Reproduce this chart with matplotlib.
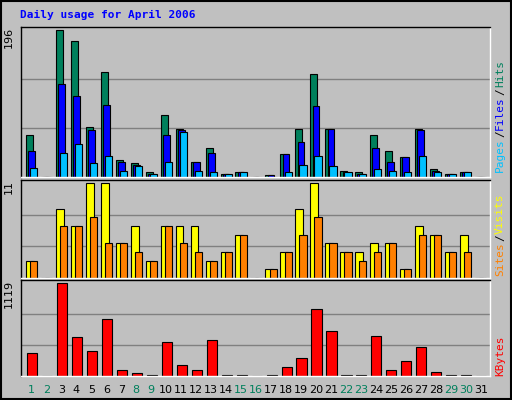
import matplotlib
matplotlib.use("Agg")
import matplotlib.pyplot as plt
import numpy as np

days = list(range(1, 32))
hits  = [56,0,196,181,66,140,23,19,7,82,64,20,38,4,7,0,2,30,64,137,64,8,7,56,34,27,64,10,4,7,0]
files = [35,0,124,108,62,96,20,16,4,56,62,20,32,4,6,0,2,30,47,94,64,7,4,38,20,27,62,8,4,6,0]
pages = [12,0,32,44,18,28,8,15,4,20,60,8,6,4,6,0,0,6,16,28,15,6,4,10,8,7,28,6,4,6,0]
visits = [2,0,8,6,11,11,4,6,2,6,6,6,2,3,5,0,1,3,8,11,4,3,3,4,4,1,6,5,3,5,0]
sites  = [2,0,6,6,7,4,4,3,2,6,4,3,2,3,5,0,1,3,5,7,4,3,2,3,4,1,5,5,3,3,0]
kbytes = [274,0,1119,470,298,690,78,41,8,408,127,78,433,8,8,0,8,114,212,800,543,8,8,482,78,176,347,53,8,8,0]
weekend = [1,2,8,9,15,16,22,23,29,30]

BG = "#C0C0C0"
fig = plt.figure(figsize=(5.12, 4.0), dpi=100, facecolor=BG)
mono = "DejaVu Sans Mono"
x = np.array(days, dtype=float)

def mkax(top, bot):
    ax = fig.add_axes([21/512, (400-bot)/400, 469/512, (bot-top)/400], facecolor=BG)
    ax.set_xlim(0.31, 31.6)
    ax.set_xticks([]); ax.set_yticks([])
    for s in ax.spines.values():
        s.set_color("black"); s.set_linewidth(1)
    ax.spines["bottom"].set_color("white"); ax.spines["right"].set_color("white")
    return ax

kw = dict(align="edge", edgecolor="black", linewidth=0.8)

ax1 = mkax(27, 177)
ax1.set_ylim(0, 196*1.02)
for g in (196/3, 2*196/3):
    ax1.axhline(g, color="#808080", lw=1, zorder=0)
ax1.bar(x-0.38, hits, 0.47, color="#00805C", **kw)
ax1.bar(x-0.24, files, 0.46, color="#0000FF", **kw)
ax1.bar(x-0.11, pages, 0.47, color="#00C0FF", **kw)

ax2 = mkax(180, 278)
ax2.set_ylim(0, 11*1.03)
for g in (11/3, 2*11/3):
    ax2.axhline(g, color="#808080", lw=1, zorder=0)
ax2.bar(x-0.38, visits, 0.53, color="#FFFF00", **kw)
ax2.bar(x-0.11, sites, 0.47, color="#FF8000", **kw)

ax3 = mkax(280, 376)
ax3.set_ylim(0, 1119*1.03)
for g in (1119/3, 2*1119/3):
    ax3.axhline(g, color="#808080", lw=1, zorder=0)
ax3.bar(x-0.31, kbytes, 0.67, color="#FF0000", **kw)

for d in days:
    ax3.text(d, -0.09, str(d), transform=ax3.get_xaxis_transform(), ha="center", va="top",
             fontsize=8, family="DejaVu Sans", color="#00805C" if d in weekend else "black")

fig.text(20/512, 1-15/400, "Daily usage for April 2006", color="#0000FF", fontsize=8,
         family=mono, fontweight="bold", va="center")
for ax, lab in ((ax1, "196"), (ax2, "11"), (ax3, "1119")):
    ax.text(-0.015, 1.0, lab, transform=ax.transAxes, rotation=90, ha="right", va="top",
            fontsize=8, family="DejaVu Sans")

renderer = fig.canvas.get_renderer()
def rlabel(y0, parts):
    y = y0
    for txt, c in parts:
        t = fig.text(500/512, y/400, txt, rotation=90, color=c, fontsize=8, family=mono,
                     ha="center", va="bottom")
        bb = t.get_window_extent(renderer)
        y += bb.height + 1
rlabel(400-172, [("Pages", "#00C0FF"), ("/", "black"), ("Files", "#0000FF"), ("/", "black"), ("Hits", "#00805C")])
rlabel(400-276, [("Sites", "#FF8000"), ("/", "black"), ("Visits", "#FFFF00")])
rlabel(400-376, [("KBytes", "#FF0000")])

fig.patches.append(plt.Rectangle((0.002, 0.002), 0.996, 0.996, transform=fig.transFigure,
                                 fill=False, edgecolor="black", lw=1.5))
fig.savefig("out.png", dpi=100, facecolor=BG)
